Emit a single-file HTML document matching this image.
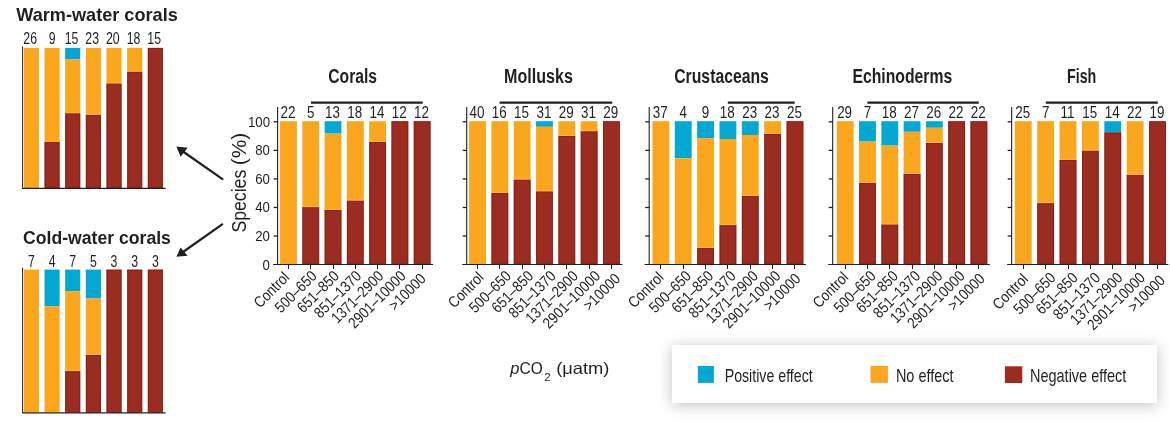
<!DOCTYPE html>
<html><head><meta charset="utf-8"><style>
html,body{margin:0;padding:0;background:#fff;width:1170px;height:423px;overflow:hidden;}
svg{position:absolute;left:0;top:0;will-change:transform;}
text{font-family:"Liberation Sans", sans-serif;}
</style></head><body>
<div style="position:absolute;left:672.4px;top:345.4px;width:484.4px;height:57.3px;background:#fff;box-shadow:0 2px 14px rgba(0,0,0,0.25);"></div>
<svg width="1170" height="423" viewBox="0 0 1170 423">
<text x="328.3" y="82.6" font-size="19.5" text-anchor="start" font-weight="bold" textLength="48.8" lengthAdjust="spacingAndGlyphs" fill="#231f20" >Corals</text>
<rect x="280.05" y="121.20" width="16.85" height="142.80" fill="#faa71f"/>
<text transform="translate(287.88,118.20) scale(0.85,1)" font-size="15.8" text-anchor="middle" fill="#231f20">22</text>
<line x1="288.5" y1="265" x2="288.5" y2="269" stroke="#231f20" stroke-width="1"/>
<text transform="translate(290.43,278.35) rotate(-45) scale(0.86,1)" font-size="15.5" text-anchor="end" fill="#231f20">Control</text>
<rect x="302.33" y="121.20" width="16.85" height="85.90" fill="#faa71f"/>
<rect x="302.33" y="207.10" width="16.85" height="56.90" fill="#9a2c22"/>
<rect x="302.83" y="207.60" width="15.85" height="56.40" fill="none" stroke="#7e1406" stroke-width="1" stroke-opacity="0.55"/>
<rect x="302.33" y="206.10" width="16.85" height="1.00" fill="#ffbe26"/>
<text transform="translate(310.76,118.20) scale(0.85,1)" font-size="15.8" text-anchor="middle" fill="#231f20">5</text>
<line x1="310.5" y1="265" x2="310.5" y2="269" stroke="#231f20" stroke-width="1"/>
<text transform="translate(317.71,277.00) rotate(-45) scale(0.86,1)" font-size="15.5" text-anchor="end" fill="#231f20">500–650</text>
<rect x="324.61" y="121.20" width="16.85" height="12.40" fill="#03a8d2"/>
<rect x="324.61" y="133.60" width="16.85" height="76.40" fill="#faa71f"/>
<rect x="324.61" y="210.00" width="16.85" height="54.00" fill="#9a2c22"/>
<rect x="325.11" y="210.50" width="15.85" height="53.50" fill="none" stroke="#7e1406" stroke-width="1" stroke-opacity="0.55"/>
<rect x="324.61" y="209.00" width="16.85" height="1.00" fill="#ffbe26"/>
<text transform="translate(332.44,118.20) scale(0.85,1)" font-size="15.8" text-anchor="middle" fill="#231f20">13</text>
<line x1="333.5" y1="265" x2="333.5" y2="269" stroke="#231f20" stroke-width="1"/>
<text transform="translate(339.99,277.00) rotate(-45) scale(0.86,1)" font-size="15.5" text-anchor="end" fill="#231f20">651–850</text>
<rect x="346.89" y="121.20" width="16.85" height="79.30" fill="#faa71f"/>
<rect x="346.89" y="200.50" width="16.85" height="63.50" fill="#9a2c22"/>
<rect x="347.39" y="201.00" width="15.85" height="63.00" fill="none" stroke="#7e1406" stroke-width="1" stroke-opacity="0.55"/>
<rect x="346.89" y="199.50" width="16.85" height="1.00" fill="#ffbe26"/>
<text transform="translate(354.71,118.20) scale(0.85,1)" font-size="15.8" text-anchor="middle" fill="#231f20">18</text>
<line x1="355.5" y1="265" x2="355.5" y2="269" stroke="#231f20" stroke-width="1"/>
<text transform="translate(362.26,277.00) rotate(-45) scale(0.86,1)" font-size="15.5" text-anchor="end" fill="#231f20">851–1370</text>
<rect x="369.17" y="121.20" width="16.85" height="20.80" fill="#faa71f"/>
<rect x="369.17" y="142.00" width="16.85" height="122.00" fill="#9a2c22"/>
<rect x="369.67" y="142.50" width="15.85" height="121.50" fill="none" stroke="#7e1406" stroke-width="1" stroke-opacity="0.55"/>
<rect x="369.17" y="141.00" width="16.85" height="1.00" fill="#ffbe26"/>
<text transform="translate(377.00,118.20) scale(0.85,1)" font-size="15.8" text-anchor="middle" fill="#231f20">14</text>
<line x1="377.5" y1="265" x2="377.5" y2="269" stroke="#231f20" stroke-width="1"/>
<text transform="translate(384.55,277.00) rotate(-45) scale(0.86,1)" font-size="15.5" text-anchor="end" fill="#231f20">1371–2900</text>
<rect x="391.45" y="121.20" width="16.85" height="142.80" fill="#9a2c22"/>
<rect x="391.95" y="121.70" width="15.85" height="142.30" fill="none" stroke="#7e1406" stroke-width="1" stroke-opacity="0.55"/>
<text transform="translate(399.28,118.20) scale(0.85,1)" font-size="15.8" text-anchor="middle" fill="#231f20">12</text>
<line x1="399.5" y1="265" x2="399.5" y2="269" stroke="#231f20" stroke-width="1"/>
<text transform="translate(406.83,277.00) rotate(-45) scale(0.86,1)" font-size="15.5" text-anchor="end" fill="#231f20">2901–10000</text>
<rect x="413.73" y="121.20" width="16.85" height="142.80" fill="#9a2c22"/>
<rect x="414.23" y="121.70" width="15.85" height="142.30" fill="none" stroke="#7e1406" stroke-width="1" stroke-opacity="0.55"/>
<text transform="translate(421.56,118.20) scale(0.85,1)" font-size="15.8" text-anchor="middle" fill="#231f20">12</text>
<line x1="422.5" y1="265" x2="422.5" y2="269" stroke="#231f20" stroke-width="1"/>
<text transform="translate(426.81,279.70) rotate(-45) scale(0.86,1)" font-size="15.5" text-anchor="end" fill="#231f20">&gt;10000</text>
<line x1="277.6" y1="107" x2="277.6" y2="265" stroke="#231f20" stroke-width="1.1"/>
<line x1="273.1" y1="264.5" x2="433.08000000000004" y2="264.5" stroke="#231f20" stroke-width="1.1"/>
<line x1="273.6" y1="236.04" x2="277.6" y2="236.04" stroke="#231f20" stroke-width="1.3"/>
<line x1="273.6" y1="207.48" x2="277.6" y2="207.48" stroke="#231f20" stroke-width="1.3"/>
<line x1="273.6" y1="178.92" x2="277.6" y2="178.92" stroke="#231f20" stroke-width="1.3"/>
<line x1="273.6" y1="150.36" x2="277.6" y2="150.36" stroke="#231f20" stroke-width="1.3"/>
<line x1="273.6" y1="121.80" x2="277.6" y2="121.80" stroke="#231f20" stroke-width="1.3"/>
<line x1="311.0" y1="102.6" x2="422.7" y2="102.6" stroke="#231f20" stroke-width="2.2"/>
<text x="504.1" y="82.6" font-size="19.5" text-anchor="start" font-weight="bold" textLength="68.8" lengthAdjust="spacingAndGlyphs" fill="#231f20" >Mollusks</text>
<rect x="469.10" y="121.20" width="16.85" height="142.80" fill="#faa71f"/>
<text transform="translate(476.93,118.20) scale(0.85,1)" font-size="15.8" text-anchor="middle" fill="#231f20">40</text>
<line x1="477.5" y1="265" x2="477.5" y2="269" stroke="#231f20" stroke-width="1"/>
<text transform="translate(484.68,278.45) rotate(-45) scale(0.86,1)" font-size="15.5" text-anchor="end" fill="#231f20">Control</text>
<rect x="491.42" y="121.20" width="16.85" height="71.70" fill="#faa71f"/>
<rect x="491.42" y="192.90" width="16.85" height="71.10" fill="#9a2c22"/>
<rect x="491.92" y="193.40" width="15.85" height="70.60" fill="none" stroke="#7e1406" stroke-width="1" stroke-opacity="0.55"/>
<rect x="491.42" y="191.90" width="16.85" height="1.00" fill="#ffbe26"/>
<text transform="translate(499.25,118.20) scale(0.85,1)" font-size="15.8" text-anchor="middle" fill="#231f20">16</text>
<line x1="499.5" y1="265" x2="499.5" y2="269" stroke="#231f20" stroke-width="1"/>
<text transform="translate(512.00,277.10) rotate(-45) scale(0.86,1)" font-size="15.5" text-anchor="end" fill="#231f20">500–650</text>
<rect x="513.74" y="121.20" width="16.85" height="58.30" fill="#faa71f"/>
<rect x="513.74" y="179.50" width="16.85" height="84.50" fill="#9a2c22"/>
<rect x="514.24" y="180.00" width="15.85" height="84.00" fill="none" stroke="#7e1406" stroke-width="1" stroke-opacity="0.55"/>
<rect x="513.74" y="178.50" width="16.85" height="1.00" fill="#ffbe26"/>
<text transform="translate(521.56,118.20) scale(0.85,1)" font-size="15.8" text-anchor="middle" fill="#231f20">15</text>
<line x1="522.5" y1="265" x2="522.5" y2="269" stroke="#231f20" stroke-width="1"/>
<text transform="translate(534.32,277.10) rotate(-45) scale(0.86,1)" font-size="15.5" text-anchor="end" fill="#231f20">651–850</text>
<rect x="536.06" y="121.20" width="16.85" height="5.60" fill="#03a8d2"/>
<rect x="536.06" y="126.80" width="16.85" height="64.50" fill="#faa71f"/>
<rect x="536.06" y="191.30" width="16.85" height="72.70" fill="#9a2c22"/>
<rect x="536.56" y="191.80" width="15.85" height="72.20" fill="none" stroke="#7e1406" stroke-width="1" stroke-opacity="0.55"/>
<rect x="536.06" y="190.30" width="16.85" height="1.00" fill="#ffbe26"/>
<text transform="translate(543.88,118.20) scale(0.85,1)" font-size="15.8" text-anchor="middle" fill="#231f20">31</text>
<line x1="544.5" y1="265" x2="544.5" y2="269" stroke="#231f20" stroke-width="1"/>
<text transform="translate(556.64,277.10) rotate(-45) scale(0.86,1)" font-size="15.5" text-anchor="end" fill="#231f20">851–1370</text>
<rect x="558.38" y="121.20" width="16.85" height="14.80" fill="#faa71f"/>
<rect x="558.38" y="136.00" width="16.85" height="128.00" fill="#9a2c22"/>
<rect x="558.88" y="136.50" width="15.85" height="127.50" fill="none" stroke="#7e1406" stroke-width="1" stroke-opacity="0.55"/>
<rect x="558.38" y="135.00" width="16.85" height="1.00" fill="#ffbe26"/>
<text transform="translate(566.20,118.20) scale(0.85,1)" font-size="15.8" text-anchor="middle" fill="#231f20">29</text>
<line x1="566.5" y1="265" x2="566.5" y2="269" stroke="#231f20" stroke-width="1"/>
<text transform="translate(578.96,277.10) rotate(-45) scale(0.86,1)" font-size="15.5" text-anchor="end" fill="#231f20">1371–2900</text>
<rect x="580.70" y="121.20" width="16.85" height="10.00" fill="#faa71f"/>
<rect x="580.70" y="131.20" width="16.85" height="132.80" fill="#9a2c22"/>
<rect x="581.20" y="131.70" width="15.85" height="132.30" fill="none" stroke="#7e1406" stroke-width="1" stroke-opacity="0.55"/>
<rect x="580.70" y="130.20" width="16.85" height="1.00" fill="#ffbe26"/>
<text transform="translate(588.52,118.20) scale(0.85,1)" font-size="15.8" text-anchor="middle" fill="#231f20">31</text>
<line x1="589.5" y1="265" x2="589.5" y2="269" stroke="#231f20" stroke-width="1"/>
<text transform="translate(601.28,277.10) rotate(-45) scale(0.86,1)" font-size="15.5" text-anchor="end" fill="#231f20">2901–10000</text>
<rect x="603.02" y="121.20" width="16.85" height="142.80" fill="#9a2c22"/>
<rect x="603.52" y="121.70" width="15.85" height="142.30" fill="none" stroke="#7e1406" stroke-width="1" stroke-opacity="0.55"/>
<text transform="translate(610.84,118.20) scale(0.85,1)" font-size="15.8" text-anchor="middle" fill="#231f20">29</text>
<line x1="611.5" y1="265" x2="611.5" y2="269" stroke="#231f20" stroke-width="1"/>
<text transform="translate(621.29,279.80) rotate(-45) scale(0.86,1)" font-size="15.5" text-anchor="end" fill="#231f20">&gt;10000</text>
<line x1="466.7" y1="107" x2="466.7" y2="265" stroke="#231f20" stroke-width="1.1"/>
<line x1="462.2" y1="264.5" x2="622.37" y2="264.5" stroke="#231f20" stroke-width="1.1"/>
<line x1="462.7" y1="236.04" x2="466.7" y2="236.04" stroke="#231f20" stroke-width="1.3"/>
<line x1="462.7" y1="207.48" x2="466.7" y2="207.48" stroke="#231f20" stroke-width="1.3"/>
<line x1="462.7" y1="178.92" x2="466.7" y2="178.92" stroke="#231f20" stroke-width="1.3"/>
<line x1="462.7" y1="150.36" x2="466.7" y2="150.36" stroke="#231f20" stroke-width="1.3"/>
<line x1="462.7" y1="121.80" x2="466.7" y2="121.80" stroke="#231f20" stroke-width="1.3"/>
<line x1="499.6" y1="102.6" x2="612.2" y2="102.6" stroke="#231f20" stroke-width="2.2"/>
<text x="674.2" y="82.6" font-size="19.5" text-anchor="start" font-weight="bold" textLength="94.7" lengthAdjust="spacingAndGlyphs" fill="#231f20" >Crustaceans</text>
<rect x="652.45" y="121.20" width="16.85" height="142.80" fill="#faa71f"/>
<text transform="translate(660.27,118.20) scale(0.85,1)" font-size="15.8" text-anchor="middle" fill="#231f20">37</text>
<line x1="660.5" y1="265" x2="660.5" y2="269" stroke="#231f20" stroke-width="1"/>
<text transform="translate(664.62,278.35) rotate(-45) scale(0.86,1)" font-size="15.5" text-anchor="end" fill="#231f20">Control</text>
<rect x="674.80" y="121.20" width="16.85" height="37.10" fill="#03a8d2"/>
<rect x="674.80" y="158.30" width="16.85" height="105.70" fill="#faa71f"/>
<text transform="translate(683.23,118.20) scale(0.85,1)" font-size="15.8" text-anchor="middle" fill="#231f20">4</text>
<line x1="683.5" y1="265" x2="683.5" y2="269" stroke="#231f20" stroke-width="1"/>
<text transform="translate(691.98,277.00) rotate(-45) scale(0.86,1)" font-size="15.5" text-anchor="end" fill="#231f20">500–650</text>
<rect x="697.15" y="121.20" width="16.85" height="17.00" fill="#03a8d2"/>
<rect x="697.15" y="138.20" width="16.85" height="109.80" fill="#faa71f"/>
<rect x="697.15" y="248.00" width="16.85" height="16.00" fill="#9a2c22"/>
<rect x="697.65" y="248.50" width="15.85" height="15.50" fill="none" stroke="#7e1406" stroke-width="1" stroke-opacity="0.55"/>
<rect x="697.15" y="247.00" width="16.85" height="1.00" fill="#ffbe26"/>
<text transform="translate(705.58,118.20) scale(0.85,1)" font-size="15.8" text-anchor="middle" fill="#231f20">9</text>
<line x1="705.5" y1="265" x2="705.5" y2="269" stroke="#231f20" stroke-width="1"/>
<text transform="translate(714.33,277.00) rotate(-45) scale(0.86,1)" font-size="15.5" text-anchor="end" fill="#231f20">651–850</text>
<rect x="719.50" y="121.20" width="16.85" height="17.80" fill="#03a8d2"/>
<rect x="719.50" y="139.00" width="16.85" height="86.10" fill="#faa71f"/>
<rect x="719.50" y="225.10" width="16.85" height="38.90" fill="#9a2c22"/>
<rect x="720.00" y="225.60" width="15.85" height="38.40" fill="none" stroke="#7e1406" stroke-width="1" stroke-opacity="0.55"/>
<rect x="719.50" y="224.10" width="16.85" height="1.00" fill="#ffbe26"/>
<text transform="translate(727.32,118.20) scale(0.85,1)" font-size="15.8" text-anchor="middle" fill="#231f20">18</text>
<line x1="727.5" y1="265" x2="727.5" y2="269" stroke="#231f20" stroke-width="1"/>
<text transform="translate(736.67,277.00) rotate(-45) scale(0.86,1)" font-size="15.5" text-anchor="end" fill="#231f20">851–1370</text>
<rect x="741.85" y="121.20" width="16.85" height="13.80" fill="#03a8d2"/>
<rect x="741.85" y="135.00" width="16.85" height="61.00" fill="#faa71f"/>
<rect x="741.85" y="196.00" width="16.85" height="68.00" fill="#9a2c22"/>
<rect x="742.35" y="196.50" width="15.85" height="67.50" fill="none" stroke="#7e1406" stroke-width="1" stroke-opacity="0.55"/>
<rect x="741.85" y="195.00" width="16.85" height="1.00" fill="#ffbe26"/>
<text transform="translate(749.67,118.20) scale(0.85,1)" font-size="15.8" text-anchor="middle" fill="#231f20">23</text>
<line x1="750.5" y1="265" x2="750.5" y2="269" stroke="#231f20" stroke-width="1"/>
<text transform="translate(759.02,277.00) rotate(-45) scale(0.86,1)" font-size="15.5" text-anchor="end" fill="#231f20">1371–2900</text>
<rect x="764.20" y="121.20" width="16.85" height="12.80" fill="#faa71f"/>
<rect x="764.20" y="134.00" width="16.85" height="130.00" fill="#9a2c22"/>
<rect x="764.70" y="134.50" width="15.85" height="129.50" fill="none" stroke="#7e1406" stroke-width="1" stroke-opacity="0.55"/>
<rect x="764.20" y="133.00" width="16.85" height="1.00" fill="#ffbe26"/>
<text transform="translate(772.02,118.20) scale(0.85,1)" font-size="15.8" text-anchor="middle" fill="#231f20">23</text>
<line x1="772.5" y1="265" x2="772.5" y2="269" stroke="#231f20" stroke-width="1"/>
<text transform="translate(781.38,277.00) rotate(-45) scale(0.86,1)" font-size="15.5" text-anchor="end" fill="#231f20">2901–10000</text>
<rect x="786.55" y="121.20" width="16.85" height="142.80" fill="#9a2c22"/>
<rect x="787.05" y="121.70" width="15.85" height="142.30" fill="none" stroke="#7e1406" stroke-width="1" stroke-opacity="0.55"/>
<text transform="translate(794.38,118.20) scale(0.85,1)" font-size="15.8" text-anchor="middle" fill="#231f20">25</text>
<line x1="794.5" y1="265" x2="794.5" y2="269" stroke="#231f20" stroke-width="1"/>
<text transform="translate(801.42,279.70) rotate(-45) scale(0.86,1)" font-size="15.5" text-anchor="end" fill="#231f20">&gt;10000</text>
<line x1="649.2" y1="107" x2="649.2" y2="265" stroke="#231f20" stroke-width="1.1"/>
<line x1="644.7" y1="264.5" x2="805.9000000000001" y2="264.5" stroke="#231f20" stroke-width="1.1"/>
<line x1="645.2" y1="236.04" x2="649.2" y2="236.04" stroke="#231f20" stroke-width="1.3"/>
<line x1="645.2" y1="207.48" x2="649.2" y2="207.48" stroke="#231f20" stroke-width="1.3"/>
<line x1="645.2" y1="178.92" x2="649.2" y2="178.92" stroke="#231f20" stroke-width="1.3"/>
<line x1="645.2" y1="150.36" x2="649.2" y2="150.36" stroke="#231f20" stroke-width="1.3"/>
<line x1="645.2" y1="121.80" x2="649.2" y2="121.80" stroke="#231f20" stroke-width="1.3"/>
<line x1="727.8" y1="102.6" x2="794.7" y2="102.6" stroke="#231f20" stroke-width="2.2"/>
<text x="852.4" y="82.6" font-size="19.5" text-anchor="start" font-weight="bold" textLength="99.8" lengthAdjust="spacingAndGlyphs" fill="#231f20" >Echinoderms</text>
<rect x="836.80" y="121.20" width="16.85" height="142.80" fill="#faa71f"/>
<text transform="translate(844.62,118.20) scale(0.85,1)" font-size="15.8" text-anchor="middle" fill="#231f20">29</text>
<line x1="845.5" y1="265" x2="845.5" y2="269" stroke="#231f20" stroke-width="1"/>
<text transform="translate(849.38,278.35) rotate(-45) scale(0.86,1)" font-size="15.5" text-anchor="end" fill="#231f20">Control</text>
<rect x="859.08" y="121.20" width="16.85" height="20.40" fill="#03a8d2"/>
<rect x="859.08" y="141.60" width="16.85" height="41.40" fill="#faa71f"/>
<rect x="859.08" y="183.00" width="16.85" height="81.00" fill="#9a2c22"/>
<rect x="859.58" y="183.50" width="15.85" height="80.50" fill="none" stroke="#7e1406" stroke-width="1" stroke-opacity="0.55"/>
<rect x="859.08" y="182.00" width="16.85" height="1.00" fill="#ffbe26"/>
<text transform="translate(867.50,118.20) scale(0.85,1)" font-size="15.8" text-anchor="middle" fill="#231f20">7</text>
<line x1="867.5" y1="265" x2="867.5" y2="269" stroke="#231f20" stroke-width="1"/>
<text transform="translate(876.65,277.00) rotate(-45) scale(0.86,1)" font-size="15.5" text-anchor="end" fill="#231f20">500–650</text>
<rect x="881.36" y="121.20" width="16.85" height="24.40" fill="#03a8d2"/>
<rect x="881.36" y="145.60" width="16.85" height="78.80" fill="#faa71f"/>
<rect x="881.36" y="224.40" width="16.85" height="39.60" fill="#9a2c22"/>
<rect x="881.86" y="224.90" width="15.85" height="39.10" fill="none" stroke="#7e1406" stroke-width="1" stroke-opacity="0.55"/>
<rect x="881.36" y="223.40" width="16.85" height="1.00" fill="#ffbe26"/>
<text transform="translate(889.18,118.20) scale(0.85,1)" font-size="15.8" text-anchor="middle" fill="#231f20">18</text>
<line x1="889.5" y1="265" x2="889.5" y2="269" stroke="#231f20" stroke-width="1"/>
<text transform="translate(898.93,277.00) rotate(-45) scale(0.86,1)" font-size="15.5" text-anchor="end" fill="#231f20">651–850</text>
<rect x="903.64" y="121.20" width="16.85" height="10.60" fill="#03a8d2"/>
<rect x="903.64" y="131.80" width="16.85" height="42.20" fill="#faa71f"/>
<rect x="903.64" y="174.00" width="16.85" height="90.00" fill="#9a2c22"/>
<rect x="904.14" y="174.50" width="15.85" height="89.50" fill="none" stroke="#7e1406" stroke-width="1" stroke-opacity="0.55"/>
<rect x="903.64" y="173.00" width="16.85" height="1.00" fill="#ffbe26"/>
<text transform="translate(911.46,118.20) scale(0.85,1)" font-size="15.8" text-anchor="middle" fill="#231f20">27</text>
<line x1="912.5" y1="265" x2="912.5" y2="269" stroke="#231f20" stroke-width="1"/>
<text transform="translate(921.22,277.00) rotate(-45) scale(0.86,1)" font-size="15.5" text-anchor="end" fill="#231f20">851–1370</text>
<rect x="925.92" y="121.20" width="16.85" height="6.60" fill="#03a8d2"/>
<rect x="925.92" y="127.80" width="16.85" height="15.20" fill="#faa71f"/>
<rect x="925.92" y="143.00" width="16.85" height="121.00" fill="#9a2c22"/>
<rect x="926.42" y="143.50" width="15.85" height="120.50" fill="none" stroke="#7e1406" stroke-width="1" stroke-opacity="0.55"/>
<rect x="925.92" y="142.00" width="16.85" height="1.00" fill="#ffbe26"/>
<text transform="translate(933.74,118.20) scale(0.85,1)" font-size="15.8" text-anchor="middle" fill="#231f20">26</text>
<line x1="934.5" y1="265" x2="934.5" y2="269" stroke="#231f20" stroke-width="1"/>
<text transform="translate(943.50,277.00) rotate(-45) scale(0.86,1)" font-size="15.5" text-anchor="end" fill="#231f20">1371–2900</text>
<rect x="948.20" y="121.20" width="16.85" height="142.80" fill="#9a2c22"/>
<rect x="948.70" y="121.70" width="15.85" height="142.30" fill="none" stroke="#7e1406" stroke-width="1" stroke-opacity="0.55"/>
<text transform="translate(956.02,118.20) scale(0.85,1)" font-size="15.8" text-anchor="middle" fill="#231f20">22</text>
<line x1="956.5" y1="265" x2="956.5" y2="269" stroke="#231f20" stroke-width="1"/>
<text transform="translate(965.77,277.00) rotate(-45) scale(0.86,1)" font-size="15.5" text-anchor="end" fill="#231f20">2901–10000</text>
<rect x="970.48" y="121.20" width="16.85" height="142.80" fill="#9a2c22"/>
<rect x="970.98" y="121.70" width="15.85" height="142.30" fill="none" stroke="#7e1406" stroke-width="1" stroke-opacity="0.55"/>
<text transform="translate(978.30,118.20) scale(0.85,1)" font-size="15.8" text-anchor="middle" fill="#231f20">22</text>
<line x1="978.5" y1="265" x2="978.5" y2="269" stroke="#231f20" stroke-width="1"/>
<text transform="translate(985.75,279.70) rotate(-45) scale(0.86,1)" font-size="15.5" text-anchor="end" fill="#231f20">&gt;10000</text>
<line x1="832.7" y1="107" x2="832.7" y2="265" stroke="#231f20" stroke-width="1.1"/>
<line x1="828.2" y1="264.5" x2="989.83" y2="264.5" stroke="#231f20" stroke-width="1.1"/>
<line x1="828.7" y1="236.04" x2="832.7" y2="236.04" stroke="#231f20" stroke-width="1.3"/>
<line x1="828.7" y1="207.48" x2="832.7" y2="207.48" stroke="#231f20" stroke-width="1.3"/>
<line x1="828.7" y1="178.92" x2="832.7" y2="178.92" stroke="#231f20" stroke-width="1.3"/>
<line x1="828.7" y1="150.36" x2="832.7" y2="150.36" stroke="#231f20" stroke-width="1.3"/>
<line x1="828.7" y1="121.80" x2="832.7" y2="121.80" stroke="#231f20" stroke-width="1.3"/>
<line x1="867.4" y1="102.6" x2="978.8" y2="102.6" stroke="#231f20" stroke-width="2.2"/>
<text x="1067.0" y="82.6" font-size="19.5" text-anchor="start" font-weight="bold" textLength="29.3" lengthAdjust="spacingAndGlyphs" fill="#231f20" >Fish</text>
<rect x="1014.85" y="121.20" width="16.85" height="142.80" fill="#faa71f"/>
<text transform="translate(1022.67,118.20) scale(0.85,1)" font-size="15.8" text-anchor="middle" fill="#231f20">25</text>
<line x1="1023.5" y1="265" x2="1023.5" y2="269" stroke="#231f20" stroke-width="1"/>
<text transform="translate(1029.02,280.05) rotate(-45) scale(0.86,1)" font-size="15.5" text-anchor="end" fill="#231f20">Control</text>
<rect x="1037.22" y="121.20" width="16.85" height="81.90" fill="#faa71f"/>
<rect x="1037.22" y="203.10" width="16.85" height="60.90" fill="#9a2c22"/>
<rect x="1037.72" y="203.60" width="15.85" height="60.40" fill="none" stroke="#7e1406" stroke-width="1" stroke-opacity="0.55"/>
<rect x="1037.22" y="202.10" width="16.85" height="1.00" fill="#ffbe26"/>
<text transform="translate(1045.65,118.20) scale(0.85,1)" font-size="15.8" text-anchor="middle" fill="#231f20">7</text>
<line x1="1045.5" y1="265" x2="1045.5" y2="269" stroke="#231f20" stroke-width="1"/>
<text transform="translate(1056.40,278.70) rotate(-45) scale(0.86,1)" font-size="15.5" text-anchor="end" fill="#231f20">500–650</text>
<rect x="1059.60" y="121.20" width="16.85" height="38.70" fill="#faa71f"/>
<rect x="1059.60" y="159.90" width="16.85" height="104.10" fill="#9a2c22"/>
<rect x="1060.10" y="160.40" width="15.85" height="103.60" fill="none" stroke="#7e1406" stroke-width="1" stroke-opacity="0.55"/>
<rect x="1059.60" y="158.90" width="16.85" height="1.00" fill="#ffbe26"/>
<text transform="translate(1067.42,118.20) scale(0.85,1)" font-size="15.8" text-anchor="middle" fill="#231f20">11</text>
<line x1="1068.5" y1="265" x2="1068.5" y2="269" stroke="#231f20" stroke-width="1"/>
<text transform="translate(1078.77,278.70) rotate(-45) scale(0.86,1)" font-size="15.5" text-anchor="end" fill="#231f20">651–850</text>
<rect x="1081.97" y="121.20" width="16.85" height="29.40" fill="#faa71f"/>
<rect x="1081.97" y="150.60" width="16.85" height="113.40" fill="#9a2c22"/>
<rect x="1082.47" y="151.10" width="15.85" height="112.90" fill="none" stroke="#7e1406" stroke-width="1" stroke-opacity="0.55"/>
<rect x="1081.97" y="149.60" width="16.85" height="1.00" fill="#ffbe26"/>
<text transform="translate(1089.80,118.20) scale(0.85,1)" font-size="15.8" text-anchor="middle" fill="#231f20">15</text>
<line x1="1090.5" y1="265" x2="1090.5" y2="269" stroke="#231f20" stroke-width="1"/>
<text transform="translate(1101.15,278.70) rotate(-45) scale(0.86,1)" font-size="15.5" text-anchor="end" fill="#231f20">851–1370</text>
<rect x="1104.35" y="121.20" width="16.85" height="11.20" fill="#03a8d2"/>
<rect x="1104.35" y="132.40" width="16.85" height="131.60" fill="#9a2c22"/>
<rect x="1104.85" y="132.90" width="15.85" height="131.10" fill="none" stroke="#7e1406" stroke-width="1" stroke-opacity="0.55"/>
<text transform="translate(1112.17,118.20) scale(0.85,1)" font-size="15.8" text-anchor="middle" fill="#231f20">14</text>
<line x1="1112.5" y1="265" x2="1112.5" y2="269" stroke="#231f20" stroke-width="1"/>
<text transform="translate(1123.52,278.70) rotate(-45) scale(0.86,1)" font-size="15.5" text-anchor="end" fill="#231f20">1371–2900</text>
<rect x="1126.72" y="121.20" width="16.85" height="53.60" fill="#faa71f"/>
<rect x="1126.72" y="174.80" width="16.85" height="89.20" fill="#9a2c22"/>
<rect x="1127.22" y="175.30" width="15.85" height="88.70" fill="none" stroke="#7e1406" stroke-width="1" stroke-opacity="0.55"/>
<rect x="1126.72" y="173.80" width="16.85" height="1.00" fill="#ffbe26"/>
<text transform="translate(1134.55,118.20) scale(0.85,1)" font-size="15.8" text-anchor="middle" fill="#231f20">22</text>
<line x1="1135.5" y1="265" x2="1135.5" y2="269" stroke="#231f20" stroke-width="1"/>
<text transform="translate(1145.90,278.70) rotate(-45) scale(0.86,1)" font-size="15.5" text-anchor="end" fill="#231f20">2901–10000</text>
<rect x="1149.10" y="121.20" width="16.85" height="142.80" fill="#9a2c22"/>
<rect x="1149.60" y="121.70" width="15.85" height="142.30" fill="none" stroke="#7e1406" stroke-width="1" stroke-opacity="0.55"/>
<text transform="translate(1156.92,118.20) scale(0.85,1)" font-size="15.8" text-anchor="middle" fill="#231f20">19</text>
<line x1="1157.5" y1="265" x2="1157.5" y2="269" stroke="#231f20" stroke-width="1"/>
<text transform="translate(1165.97,281.40) rotate(-45) scale(0.86,1)" font-size="15.5" text-anchor="end" fill="#231f20">&gt;10000</text>
<line x1="1011.65" y1="107" x2="1011.65" y2="265" stroke="#231f20" stroke-width="1.1"/>
<line x1="1007.15" y1="264.5" x2="1168.4499999999998" y2="264.5" stroke="#231f20" stroke-width="1.1"/>
<line x1="1007.65" y1="236.04" x2="1011.65" y2="236.04" stroke="#231f20" stroke-width="1.3"/>
<line x1="1007.65" y1="207.48" x2="1011.65" y2="207.48" stroke="#231f20" stroke-width="1.3"/>
<line x1="1007.65" y1="178.92" x2="1011.65" y2="178.92" stroke="#231f20" stroke-width="1.3"/>
<line x1="1007.65" y1="150.36" x2="1011.65" y2="150.36" stroke="#231f20" stroke-width="1.3"/>
<line x1="1007.65" y1="121.80" x2="1011.65" y2="121.80" stroke="#231f20" stroke-width="1.3"/>
<line x1="1045.8" y1="102.6" x2="1157.8" y2="102.6" stroke="#231f20" stroke-width="2.2"/>
<text transform="translate(270.00,269.60) scale(0.86,1)" font-size="15.4" text-anchor="end" fill="#231f20">0</text>
<text transform="translate(270.00,241.04) scale(0.86,1)" font-size="15.4" text-anchor="end" fill="#231f20">20</text>
<text transform="translate(270.00,212.48) scale(0.86,1)" font-size="15.4" text-anchor="end" fill="#231f20">40</text>
<text transform="translate(270.00,183.92) scale(0.86,1)" font-size="15.4" text-anchor="end" fill="#231f20">60</text>
<text transform="translate(270.00,155.36) scale(0.86,1)" font-size="15.4" text-anchor="end" fill="#231f20">80</text>
<text transform="translate(270.00,126.80) scale(0.86,1)" font-size="15.4" text-anchor="end" fill="#231f20">100</text>
<text transform="translate(246,232.6) rotate(-90)" font-size="20" fill="#231f20" textLength="62.85" lengthAdjust="spacingAndGlyphs">Species</text>
<text transform="translate(246,165.3) rotate(-90)" font-size="20" fill="#231f20" textLength="32.4" lengthAdjust="spacingAndGlyphs">(%)</text>
<text x="16.2" y="20.9" font-size="19" text-anchor="start" font-weight="bold" textLength="161.6" lengthAdjust="spacingAndGlyphs" fill="#231f20" >Warm-water corals</text>
<rect x="23.85" y="47.90" width="15.10" height="140.10" fill="#faa71f"/>
<text transform="translate(30.20,44.40) scale(0.76,1)" font-size="16.2" text-anchor="middle" fill="#231f20">26</text>
<rect x="44.51" y="47.90" width="15.10" height="93.90" fill="#faa71f"/>
<rect x="44.51" y="141.80" width="15.10" height="46.20" fill="#9a2c22"/>
<rect x="45.01" y="142.30" width="14.10" height="45.70" fill="none" stroke="#7e1406" stroke-width="1" stroke-opacity="0.55"/>
<rect x="44.51" y="140.80" width="15.10" height="1.00" fill="#ffbe26"/>
<text transform="translate(52.06,44.40) scale(0.76,1)" font-size="16.2" text-anchor="middle" fill="#231f20">9</text>
<rect x="65.17" y="47.90" width="15.10" height="11.60" fill="#03a8d2"/>
<rect x="65.17" y="59.50" width="15.10" height="53.70" fill="#faa71f"/>
<rect x="65.17" y="113.20" width="15.10" height="74.80" fill="#9a2c22"/>
<rect x="65.67" y="113.70" width="14.10" height="74.30" fill="none" stroke="#7e1406" stroke-width="1" stroke-opacity="0.55"/>
<rect x="65.17" y="112.20" width="15.10" height="1.00" fill="#ffbe26"/>
<text transform="translate(71.52,44.40) scale(0.76,1)" font-size="16.2" text-anchor="middle" fill="#231f20">15</text>
<rect x="85.83" y="47.90" width="15.10" height="66.80" fill="#faa71f"/>
<rect x="85.83" y="114.70" width="15.10" height="73.30" fill="#9a2c22"/>
<rect x="86.33" y="115.20" width="14.10" height="72.80" fill="none" stroke="#7e1406" stroke-width="1" stroke-opacity="0.55"/>
<rect x="85.83" y="113.70" width="15.10" height="1.00" fill="#ffbe26"/>
<text transform="translate(92.18,44.40) scale(0.76,1)" font-size="16.2" text-anchor="middle" fill="#231f20">23</text>
<rect x="106.49" y="47.90" width="15.10" height="35.50" fill="#faa71f"/>
<rect x="106.49" y="83.40" width="15.10" height="104.60" fill="#9a2c22"/>
<rect x="106.99" y="83.90" width="14.10" height="104.10" fill="none" stroke="#7e1406" stroke-width="1" stroke-opacity="0.55"/>
<rect x="106.49" y="82.40" width="15.10" height="1.00" fill="#ffbe26"/>
<text transform="translate(112.84,44.40) scale(0.76,1)" font-size="16.2" text-anchor="middle" fill="#231f20">20</text>
<rect x="127.15" y="47.90" width="15.10" height="23.70" fill="#faa71f"/>
<rect x="127.15" y="71.60" width="15.10" height="116.40" fill="#9a2c22"/>
<rect x="127.65" y="72.10" width="14.10" height="115.90" fill="none" stroke="#7e1406" stroke-width="1" stroke-opacity="0.55"/>
<rect x="127.15" y="70.60" width="15.10" height="1.00" fill="#ffbe26"/>
<text transform="translate(133.50,44.40) scale(0.76,1)" font-size="16.2" text-anchor="middle" fill="#231f20">18</text>
<rect x="147.81" y="47.90" width="15.10" height="140.10" fill="#9a2c22"/>
<rect x="148.31" y="48.40" width="14.10" height="139.60" fill="none" stroke="#7e1406" stroke-width="1" stroke-opacity="0.55"/>
<text transform="translate(154.16,44.40) scale(0.76,1)" font-size="16.2" text-anchor="middle" fill="#231f20">15</text>
<line x1="22.6" y1="46.5" x2="22.6" y2="188.3" stroke="#231f20" stroke-width="1"/>
<line x1="22.1" y1="188.3" x2="165.6" y2="188.3" stroke="#231f20" stroke-width="1.3"/>
<text x="23.1" y="244.0" font-size="18" text-anchor="start" font-weight="bold" textLength="147.8" lengthAdjust="spacingAndGlyphs" fill="#231f20" >Cold-water corals</text>
<rect x="23.85" y="269.60" width="15.10" height="142.90" fill="#faa71f"/>
<text transform="translate(31.40,267.10) scale(0.76,1)" font-size="16.2" text-anchor="middle" fill="#231f20">7</text>
<rect x="44.51" y="269.60" width="15.10" height="36.70" fill="#03a8d2"/>
<rect x="44.51" y="306.30" width="15.10" height="106.20" fill="#faa71f"/>
<text transform="translate(52.06,267.10) scale(0.76,1)" font-size="16.2" text-anchor="middle" fill="#231f20">4</text>
<rect x="65.17" y="269.60" width="15.10" height="21.50" fill="#03a8d2"/>
<rect x="65.17" y="291.10" width="15.10" height="80.00" fill="#faa71f"/>
<rect x="65.17" y="371.10" width="15.10" height="41.40" fill="#9a2c22"/>
<rect x="65.67" y="371.60" width="14.10" height="40.90" fill="none" stroke="#7e1406" stroke-width="1" stroke-opacity="0.55"/>
<rect x="65.17" y="370.10" width="15.10" height="1.00" fill="#ffbe26"/>
<text transform="translate(72.72,267.10) scale(0.76,1)" font-size="16.2" text-anchor="middle" fill="#231f20">7</text>
<rect x="85.83" y="269.60" width="15.10" height="28.90" fill="#03a8d2"/>
<rect x="85.83" y="298.50" width="15.10" height="56.50" fill="#faa71f"/>
<rect x="85.83" y="355.00" width="15.10" height="57.50" fill="#9a2c22"/>
<rect x="86.33" y="355.50" width="14.10" height="57.00" fill="none" stroke="#7e1406" stroke-width="1" stroke-opacity="0.55"/>
<rect x="85.83" y="354.00" width="15.10" height="1.00" fill="#ffbe26"/>
<text transform="translate(93.38,267.10) scale(0.76,1)" font-size="16.2" text-anchor="middle" fill="#231f20">5</text>
<rect x="106.49" y="269.60" width="15.10" height="142.90" fill="#9a2c22"/>
<rect x="106.99" y="270.10" width="14.10" height="142.40" fill="none" stroke="#7e1406" stroke-width="1" stroke-opacity="0.55"/>
<text transform="translate(114.04,267.10) scale(0.76,1)" font-size="16.2" text-anchor="middle" fill="#231f20">3</text>
<rect x="127.15" y="269.60" width="15.10" height="142.90" fill="#9a2c22"/>
<rect x="127.65" y="270.10" width="14.10" height="142.40" fill="none" stroke="#7e1406" stroke-width="1" stroke-opacity="0.55"/>
<text transform="translate(134.70,267.10) scale(0.76,1)" font-size="16.2" text-anchor="middle" fill="#231f20">3</text>
<rect x="147.81" y="269.60" width="15.10" height="142.90" fill="#9a2c22"/>
<rect x="148.31" y="270.10" width="14.10" height="142.40" fill="none" stroke="#7e1406" stroke-width="1" stroke-opacity="0.55"/>
<text transform="translate(155.36,267.10) scale(0.76,1)" font-size="16.2" text-anchor="middle" fill="#231f20">3</text>
<line x1="22.6" y1="267.7" x2="22.6" y2="412.8" stroke="#231f20" stroke-width="1"/>
<line x1="22.1" y1="412.8" x2="165.6" y2="412.8" stroke="#231f20" stroke-width="1.3"/>
<line x1="223.2" y1="179.6" x2="183" y2="151.5" stroke="#231f20" stroke-width="2.2"/>
<polygon points="176.4,146.6 187.6,147.8 180.6,156.8" fill="#231f20"/>
<line x1="222.9" y1="223.9" x2="183" y2="252" stroke="#231f20" stroke-width="2.2"/>
<polygon points="176.4,256.8 180.6,247.6 187.6,255.8" fill="#231f20"/>
<text x="510.3" y="374.1" font-size="16.5" font-style="italic" fill="#231f20">p</text>
<text x="519.6" y="374.1" font-size="16.5" fill="#231f20" textLength="23.2" lengthAdjust="spacingAndGlyphs">CO</text>
<text x="544.3" y="380.6" font-size="11.5" fill="#231f20">2</text>
<text x="556.2" y="374.1" font-size="16.5" fill="#231f20" textLength="53.2" lengthAdjust="spacingAndGlyphs">(μatm)</text>
<rect x="697.80" y="366.00" width="16.10" height="16.90" fill="#03a8d2"/>
<text x="724.7" y="381.9" font-size="18.6" text-anchor="start" textLength="88" lengthAdjust="spacingAndGlyphs" fill="#231f20" >Positive effect</text>
<rect x="870.50" y="366.00" width="17.40" height="16.90" fill="#faa71f"/>
<text x="895.9" y="381.9" font-size="18.6" text-anchor="start" textLength="57.7" lengthAdjust="spacingAndGlyphs" fill="#231f20" >No effect</text>
<rect x="1004.90" y="366.30" width="17.40" height="16.70" fill="#9a2c22"/>
<text x="1030" y="381.9" font-size="18.6" text-anchor="start" textLength="96.3" lengthAdjust="spacingAndGlyphs" fill="#231f20" >Negative effect</text>
</svg>
</body></html>
